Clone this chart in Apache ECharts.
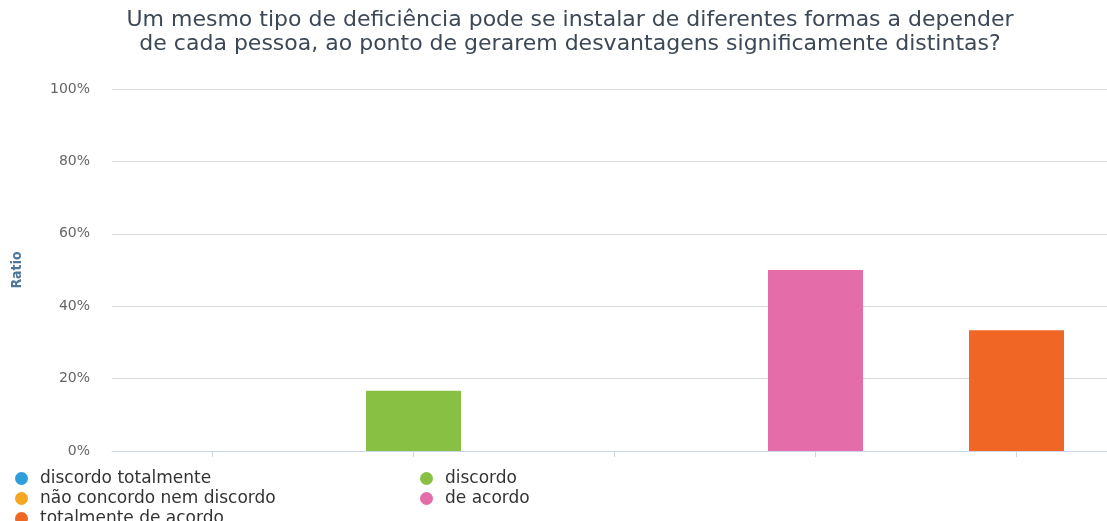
<!DOCTYPE html>
<html>
<head>
<meta charset="utf-8">
<script src="https://cdn.jsdelivr.net/npm/echarts@6/dist/echarts.min.js"></script>
<style>
  html, body { margin: 0; padding: 0; background: #fff; overflow: hidden; }
  /* plot runs a little past the right edge of the window, as in the original */
  #chart { width: 1117px; height: 521px; }
</style>
</head>
<body>
<div id="chart"></div>
<script>
// answer options and share of respondents (%)
const categories = ['discordo totalmente', 'discordo', 'não concordo nem discordo', 'de acordo', 'totalmente de acordo']
const ratios = [0, 16.67, 0, 50, 33.33]
const colors = ['#2d9fdb', '#88c043', '#f5a623', '#e46ca8', '#ef6625']
const yTicks = [0, 20, 40, 60, 80, 100]

const chart = echarts.init(document.getElementById('chart'))

// one series per answer, stacked so each bar sits on its own category
const series = categories.map((name, i) => ({
  name: name,
  type: 'bar',
  stack: 'all',
  barWidth: 95,
  itemStyle: { color: colors[i] },
  data: categories.map((c, j) => (j === i ? ratios[i] : null))
}))

// legend laid out in two columns, row by row
const legends = categories.map((name, i) => ({
  data: [name],
  left: i % 2 === 0 ? 10 : 415,
  top: 465 + Math.floor(i / 2) * 20,
  icon: 'circle',
  itemWidth: 13,
  itemHeight: 13,
  textStyle: { color: '#333', fontSize: 17, lineHeight: 17, fontFamily: 'DejaVu Sans', padding: [0, 0, 0, 7] }
}))

chart.setOption({
  animation: false,
  title: {
    text: 'Um mesmo tipo de deficiência pode se instalar de diferentes formas a depender\nde cada pessoa, ao ponto de gerarem desvantagens significamente distintas?',
    left: 565,
    top: 3,
    textAlign: 'center',
    textStyle: {
      color: '#3c4856',
      fontSize: 22,
      fontWeight: 'normal',
      fontFamily: 'DejaVu Sans',
      lineHeight: 24
    }
  },
  grid: { left: 112, right: 0, top: 89, bottom: 70 },
  xAxis: {
    type: 'category',
    data: categories,
    axisLine: { lineStyle: { color: '#ccd6eb' } },
    axisTick: { show: true, alignWithLabel: true, length: 6, lineStyle: { color: '#ccd6eb' } },
    axisLabel: { show: false }
  },
  yAxis: {
    type: 'value',
    min: yTicks[0],
    max: yTicks[yTicks.length - 1],
    interval: 20,
    name: 'Ratio',
    nameLocation: 'middle',
    nameGap: 88,
    nameTextStyle: { color: '#4d759e', fontWeight: 'bold', fontSize: 14, fontFamily: 'DejaVu Sans Condensed' },
    axisLabel: { formatter: '{value}%', color: '#666', fontSize: 14, fontFamily: 'DejaVu Sans', margin: 22 },
    splitLine: { lineStyle: { color: '#d8d8d8' } }
  },
  legend: legends,
  series: series
})
</script>
</body>
</html>
